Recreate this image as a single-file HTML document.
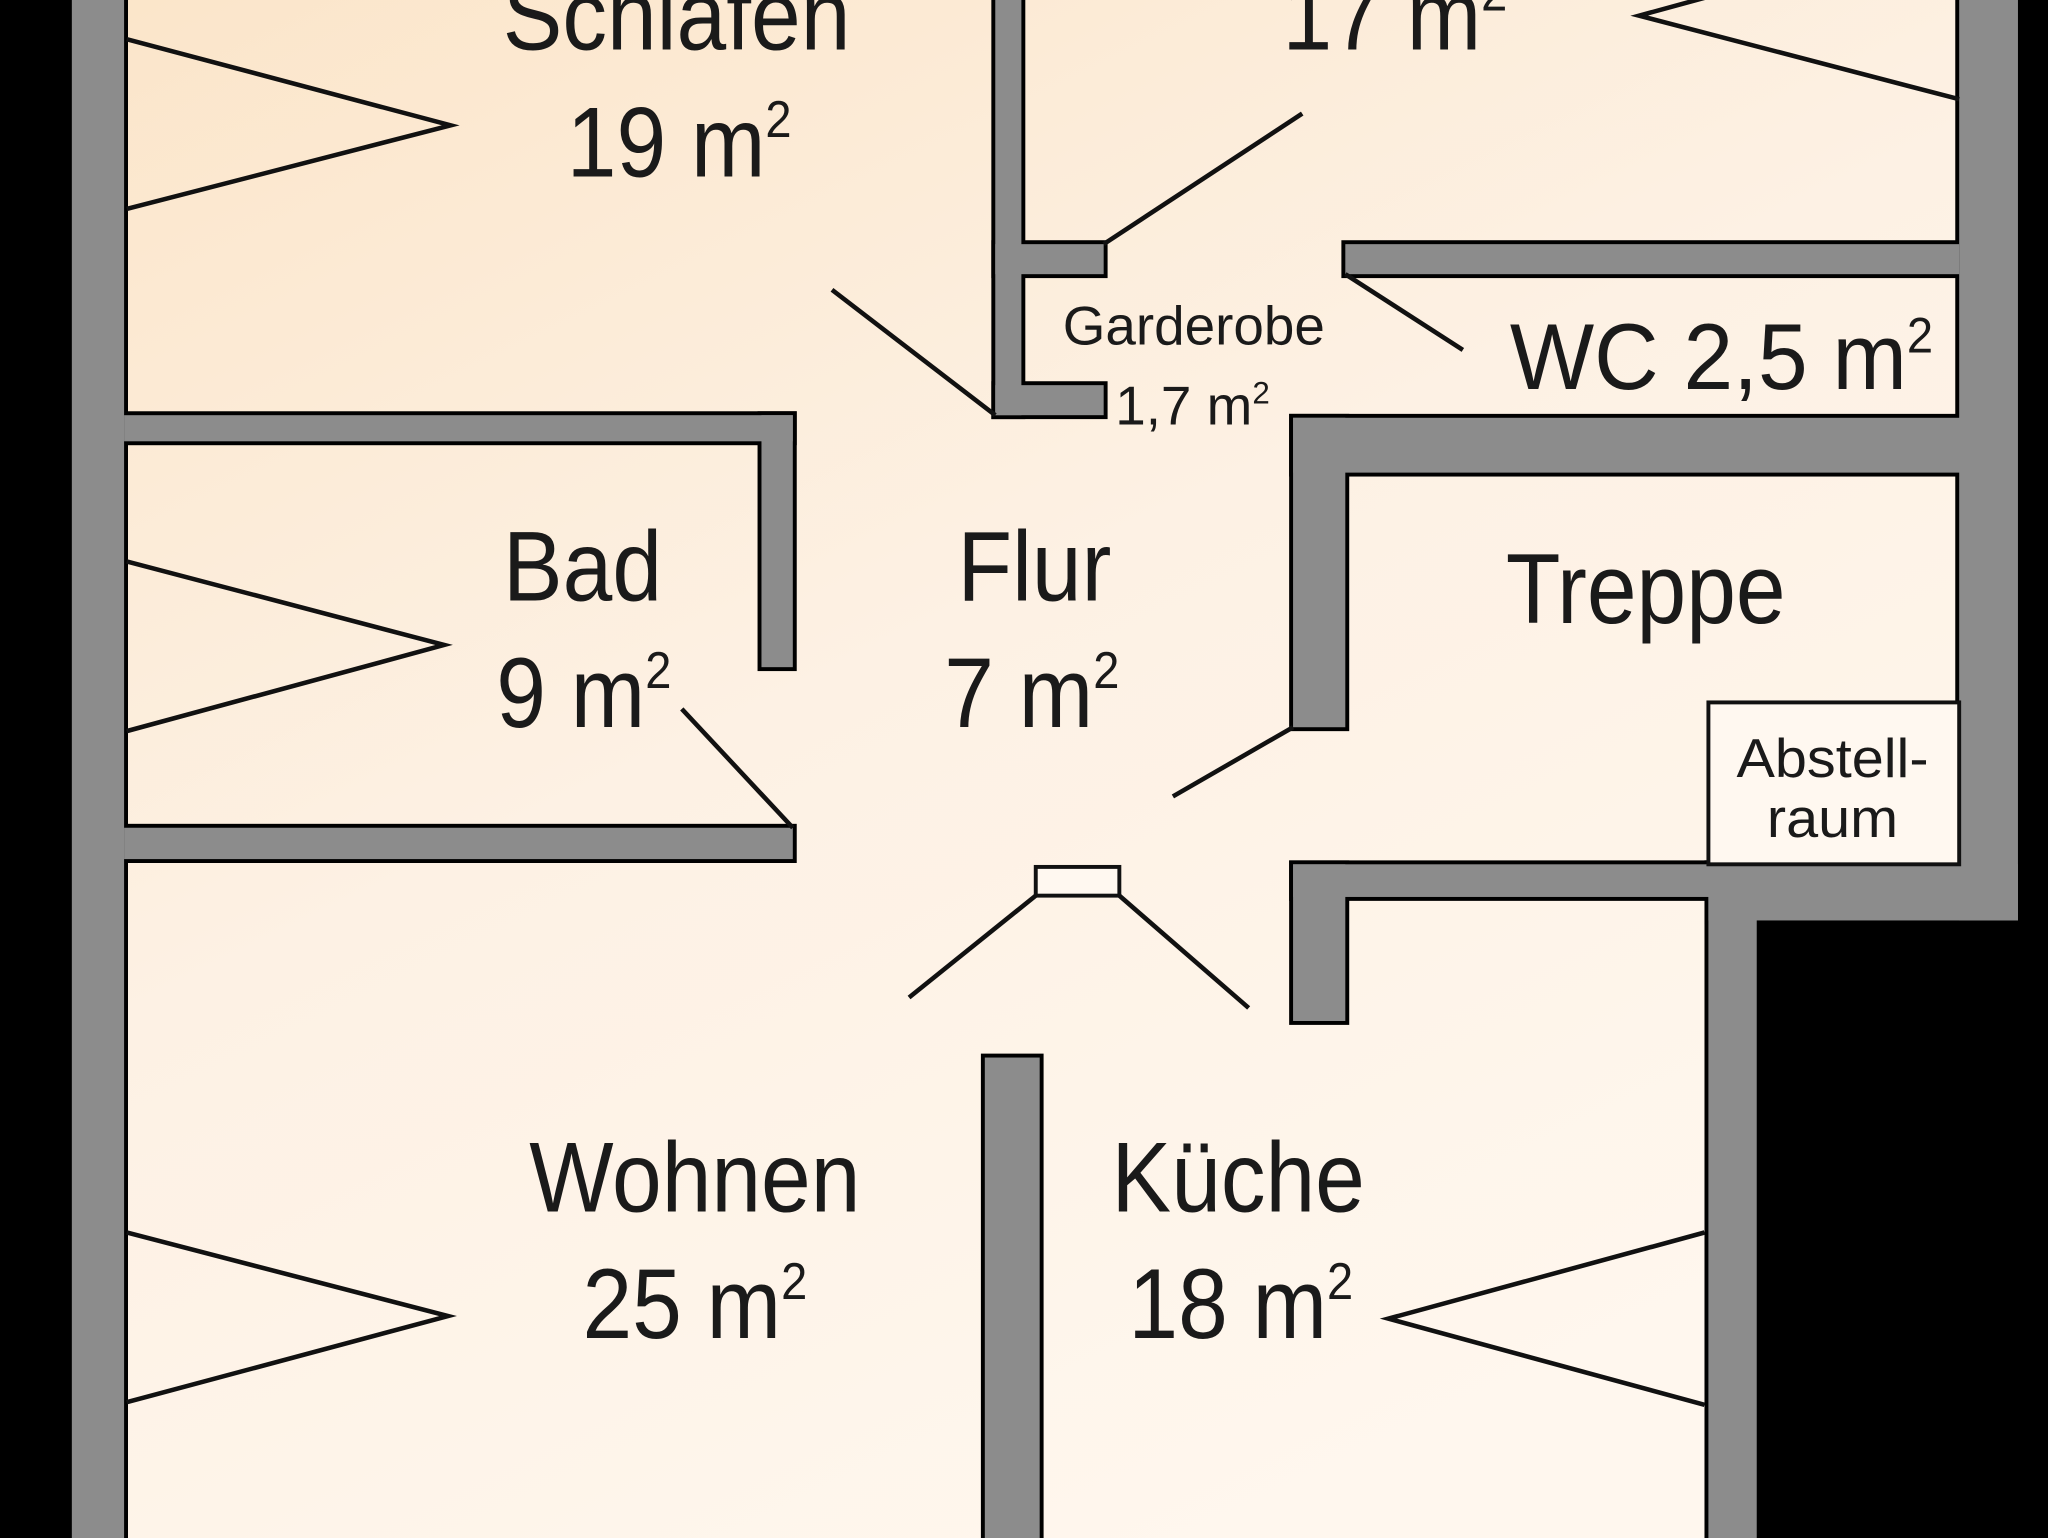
<!DOCTYPE html>
<html><head><meta charset="utf-8"><style>
html,body{margin:0;padding:0;background:#000;width:2048px;height:1538px;overflow:hidden}
svg{display:block}
text{font-family:"Liberation Sans Narrow","Liberation Sans",sans-serif;fill:#1a1a1a;text-anchor:middle}
</style></head><body>
<svg width="2048" height="1538" viewBox="0 0 1568 1178" preserveAspectRatio="none" xmlns="http://www.w3.org/2000/svg">
<defs>
<linearGradient id="bg" x1="0" y1="0" x2="0.6" y2="1">
<stop offset="0" stop-color="#fbe5c9"/>
<stop offset="0.5" stop-color="#fdf1e4"/>
<stop offset="1" stop-color="#fff7ee"/>
</linearGradient>
<g id="walls">
<rect x="55" y="-10" width="40" height="1200"/>
<rect x="1500" y="-10" width="45" height="715"/>
<rect x="990" y="662" width="555" height="25"/>
<rect x="1308" y="662" width="237" height="43"/>
<rect x="1308" y="662" width="37" height="530"/>
<rect x="990" y="662" width="40" height="120"/>
<rect x="990" y="320" width="550" height="42"/>
<rect x="990" y="320" width="40" height="237"/>
<rect x="1030" y="187" width="470" height="23"/>
<rect x="762" y="-10" width="20" height="328"/>
<rect x="762" y="187" width="83" height="23"/>
<rect x="762" y="295" width="83" height="23"/>
<rect x="95" y="318" width="512" height="20"/>
<rect x="583" y="318" width="24" height="193"/>
<rect x="95" y="634" width="512" height="24"/>
<rect x="754" y="810" width="42" height="380"/>
</g>
</defs>
<rect x="0" y="0" width="1568" height="1178" fill="#000"/>
<polygon points="55,-10 1545,-10 1545,705 1345,705 1345,1190 55,1190" fill="url(#bg)"/>
<use href="#walls" fill="#000" stroke="#000" stroke-width="6"/>
<use href="#walls" fill="#8c8c8c"/>
<rect x="1308" y="538" width="192" height="124" fill="#fff8f0" stroke="#111" stroke-width="3"/>
<rect x="793" y="664" width="64" height="22" fill="#fff8f0" stroke="#111" stroke-width="3"/>
<g stroke="#111" stroke-width="3.5" fill="none">
<polyline points="97,30 345,96 97,160"/>
<polyline points="97,430 340,494 97,560"/>
<polyline points="97,944 343,1008 97,1074"/>
<polyline points="1305,944 1063,1010 1305,1076"/>
<polyline points="1500,-55 1255,12 1500,76"/>
<line x1="637" y1="222" x2="762" y2="318"/>
<line x1="845" y1="187" x2="997" y2="87"/>
<line x1="1030" y1="210" x2="1120" y2="268"/>
<line x1="522" y1="543" x2="607" y2="634"/>
<line x1="898" y1="610" x2="990" y2="557"/>
<line x1="793" y1="686" x2="696" y2="764"/>
<line x1="857" y1="686" x2="956" y2="772"/>
</g>
<g font-size="76">
<g transform="translate(518,38) scale(0.9,1)"><text>Schlafen</text></g>
<g transform="translate(520,135) scale(0.9,1)"><text>19 m<tspan font-size="40" dy="-30">2</tspan></text></g>
<g transform="translate(1068,38) scale(0.9,1)"><text>17 m<tspan font-size="40" dy="-30">2</tspan></text></g>
<g transform="translate(446,460) scale(0.9,1)"><text>Bad</text></g>
<g transform="translate(447,557) scale(0.9,1)"><text>9 m<tspan font-size="40" dy="-30">2</tspan></text></g>
<g transform="translate(792,460) scale(0.9,1)"><text>Flur</text></g>
<g transform="translate(790,557) scale(0.9,1)"><text>7 m<tspan font-size="40" dy="-30">2</tspan></text></g>
<g transform="translate(1260,477) scale(0.9,1)"><text>Treppe</text></g>
<g transform="translate(532,928) scale(0.9,1)"><text>Wohnen</text></g>
<g transform="translate(532,1025) scale(0.9,1)"><text>25 m<tspan font-size="40" dy="-30">2</tspan></text></g>
<g transform="translate(948,928) scale(0.9,1)"><text>Küche</text></g>
<g transform="translate(950,1025) scale(0.9,1)"><text>18 m<tspan font-size="40" dy="-30">2</tspan></text></g>
</g>
<g transform="translate(1318,298) scale(0.95,1)"><text font-size="72">WC 2,5 m<tspan font-size="38" dy="-28">2</tspan></text></g>
<g font-size="42">
<g transform="translate(914,264) scale(1,1)"><text>Garderobe</text></g>
<g transform="translate(913,325) scale(1,1)"><text>1,7 m<tspan font-size="24" dy="-16">2</tspan></text></g>
<g transform="translate(1403,595) scale(1.05,1)"><text>Abstell-</text></g>
<g transform="translate(1403,641) scale(1.05,1)"><text>raum</text></g>
</g>
</svg>
</body></html>
